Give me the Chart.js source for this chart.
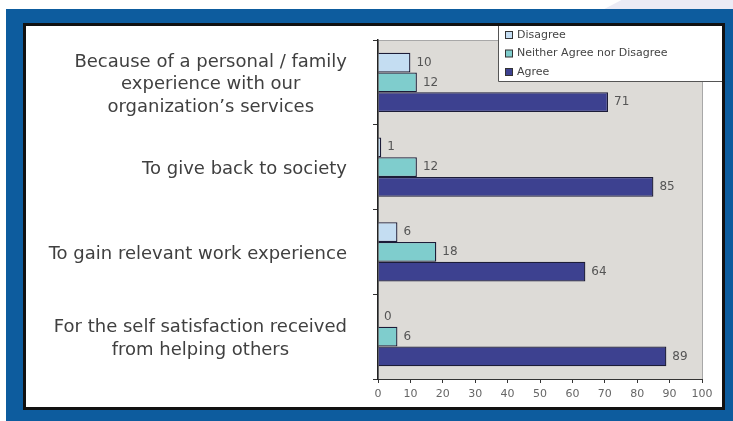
<!DOCTYPE html>
<html>
<head>
<meta charset="utf-8">
<script src="https://cdn.jsdelivr.net/npm/chart.js@4"></script>
<style>
  html, body { margin: 0; padding: 0; background: #fff; }
  body { width: 733px; height: 421px; position: relative; overflow: hidden; font-family: "DejaVu Sans", sans-serif; }
  #swoosh { position: absolute; left: 590px; top: 0; width: 143px; height: 9px; background: #ebebf5;
            clip-path: polygon(10% 100%, 22% 0, 100% 0, 100% 100%); }
  #frame { position: absolute; left: 6px; top: 9px; right: 0; bottom: 0; background: #0d5c9e; }
  #panel { position: absolute; left: 23px; top: 23px; width: 696px; height: 381px;
           border: 3px solid #111; background: #fff; }
  canvas { display: block; }
</style>
</head>
<body>
<div id="swoosh"></div>
<div id="frame"></div>
<div id="panel"><canvas id="chart" width="696" height="381"></canvas></div>
<script>
// reasons (y categories), multi-line labels
const categories = [
    ['Because of a personal / family', 'experience with our', 'organization\u2019s services'],
    ['To give back to society'],
    ['To gain relevant work experience'],
    ['For the self satisfaction received', 'from helping others'],
];
const seriesNames = ['Disagree', 'Neither Agree nor Disagree', 'Agree'];
const disagree = [10, 1, 6, 0];
const neither = [12, 12, 18, 6];
const agree = [71, 85, 64, 89];
const xMin = 0, xMax = 100, xStep = 10;

const COLORS = ['#c4ddf2', '#7fcdcd', '#3d4190'];
const FONT = '"DejaVu Sans", sans-serif';

// gray plot area with a thin frame
const plotBackground = {
    id: 'plotBackground',
    beforeDraw(chart) {
        const { ctx, chartArea: a } = chart;
        ctx.save();
        ctx.fillStyle = '#dddbd7';
        ctx.fillRect(a.left, a.top, a.right - a.left, a.bottom - a.top);
        ctx.strokeStyle = '#a8a8a8';
        ctx.lineWidth = 1;
        ctx.strokeRect(a.left + 0.5, a.top + 0.5, a.right - a.left, a.bottom - a.top);
        ctx.restore();
    }
};

// category labels: each block right-aligned to the axis, lines centred within the block
const categoryLabels = {
    id: 'categoryLabels',
    afterDraw(chart) {
        const { ctx } = chart;
        const yScale = chart.scales.y;
        const right = yScale.right - 31;
        const lineH = 22.5;
        ctx.save();
        ctx.font = '18px ' + FONT;
        ctx.fillStyle = '#404040';
        ctx.textAlign = 'center';
        ctx.textBaseline = 'middle';
        categories.forEach((lines, i) => {
            const cy = yScale.getPixelForValue(i) + 2;
            const w = Math.max(...lines.map(l => ctx.measureText(l).width));
            const cx = right - w / 2;
            lines.forEach((l, j) => {
                ctx.fillText(l, cx, cy + (j - (lines.length - 1) / 2) * lineH);
            });
        });
        ctx.restore();
    }
};

// value labels at the end of each bar
const valueLabels = {
    id: 'valueLabels',
    afterDatasetsDraw(chart) {
        const { ctx } = chart;
        ctx.save();
        ctx.font = '12px ' + FONT;
        ctx.fillStyle = '#555';
        ctx.textAlign = 'left';
        ctx.textBaseline = 'middle';
        chart.data.datasets.forEach((ds, di) => {
            chart.getDatasetMeta(di).data.forEach((bar, i) => {
                ctx.fillText(String(ds.data[i]), bar.x + 6, bar.y);
            });
        });
        ctx.restore();
    }
};

// legend box in the top-right corner, over the plot
const legendBox = {
    id: 'legendBox',
    afterDraw(chart) {
        const { ctx } = chart;
        const x0 = 472, x1 = chart.width, y1 = 55;
        ctx.save();
        ctx.fillStyle = '#fff';
        ctx.fillRect(x0, 0, x1 - x0, y1);
        ctx.strokeStyle = '#555';
        ctx.lineWidth = 1;
        ctx.beginPath();
        ctx.moveTo(x0 + 0.5, 0);
        ctx.lineTo(x0 + 0.5, y1 + 0.5);
        ctx.lineTo(x1, y1 + 0.5);
        ctx.stroke();
        ctx.font = '11px ' + FONT;
        ctx.textBaseline = 'middle';
        chart.data.datasets.forEach((ds, i) => {
            const cy = 9 + i * 18.5;
            ctx.fillStyle = ds.backgroundColor;
            ctx.fillRect(479.5, cy - 3.5, 7, 7);
            ctx.strokeStyle = '#333';
            ctx.strokeRect(479.5, cy - 3.5, 7, 7);
            ctx.fillStyle = '#444';
            ctx.fillText(ds.label, 491, cy);
        });
        ctx.restore();
    }
};

const ctx = document.getElementById('chart').getContext('2d');
new Chart(ctx, {
    type: 'bar',
    data: {
        labels: categories,
        datasets: [disagree, neither, agree].map((d, i) => ({
            label: seriesNames[i],
            data: d,
            backgroundColor: COLORS[i],
            borderColor: '#1c1c38',
            borderWidth: 1.3,
            categoryPercentage: 0.7,
            barPercentage: 1.0,
        }))
    },
    options: {
        indexAxis: 'y',
        responsive: false,
        animation: false,
        layout: { padding: { top: 14, right: 20, left: 0, bottom: 0 } },
        plugins: { legend: { display: false }, tooltip: { enabled: false } },
        scales: {
            x: {
                min: xMin, max: xMax,
                ticks: { stepSize: xStep, color: '#666', font: { family: FONT, size: 11 }, padding: 5 },
                grid: { drawOnChartArea: false, tickLength: 4, color: '#333' },
                border: { color: '#333', width: 1 },
                afterFit: s => { s.height = 28; }
            },
            y: {
                ticks: { display: false },
                grid: { drawOnChartArea: false, tickLength: 5, color: '#333' },
                border: { color: '#222', width: 1.5 },
                afterFit: s => { s.width = 352; }
            }
        }
    },
    plugins: [plotBackground, categoryLabels, valueLabels, legendBox]
});
</script>
</body>
</html>
